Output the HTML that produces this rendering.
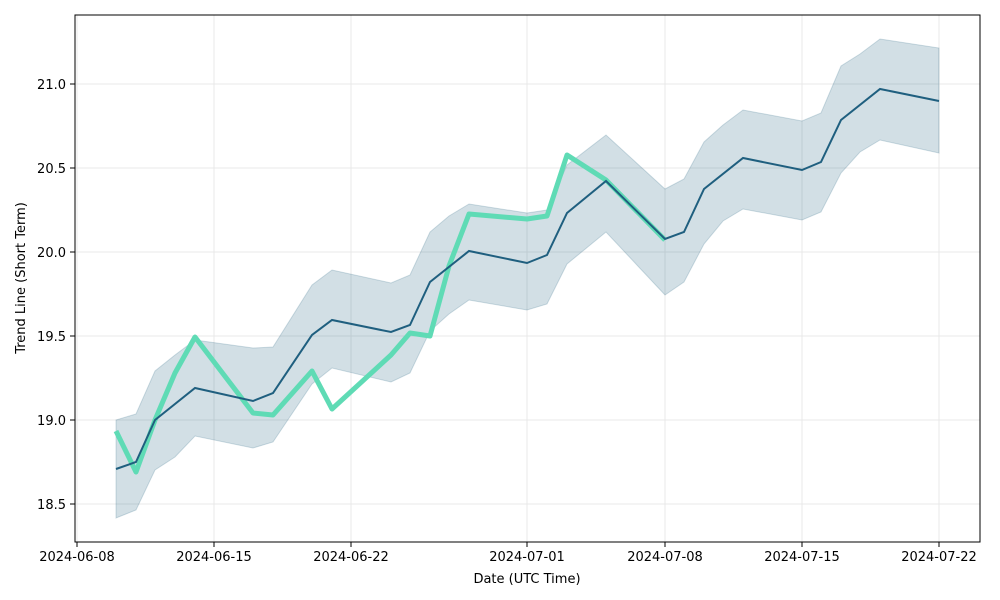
<!DOCTYPE html>
<html><head><meta charset="utf-8"><style>body{margin:0;background:#fff}svg{display:block;font-family:"DejaVu Sans","Liberation Sans",sans-serif}</style></head><body>
<svg width="1000" height="600" xmlns="http://www.w3.org/2000/svg">
<rect width="1000" height="600" fill="#fff"/>
<g stroke="#e8e8e8" stroke-width="1">
<line x1="214" y1="15" x2="214" y2="542"/><line x1="351" y1="15" x2="351" y2="542"/><line x1="527" y1="15" x2="527" y2="542"/><line x1="665" y1="15" x2="665" y2="542"/><line x1="802" y1="15" x2="802" y2="542"/><line x1="939" y1="15" x2="939" y2="542"/><line x1="77" y1="15" x2="77" y2="542"/>
<line x1="75" y1="84" x2="980" y2="84"/><line x1="75" y1="168" x2="980" y2="168"/><line x1="75" y1="252" x2="980" y2="252"/><line x1="75" y1="336" x2="980" y2="336"/><line x1="75" y1="420" x2="980" y2="420"/><line x1="75" y1="504" x2="980" y2="504"/>
</g>
<polygon fill="#1f5f7f" fill-opacity="0.2" stroke="#1f5f7f" stroke-opacity="0.2" points="116,420 136,414 155,371 175,355 195,340 253,348 273,347 312,285 332,270 391,283 410,275 430,232 449,216 469,204 527,213 547,210 567,165 606,135 665,189 684,179 704,142 723,125 743,110 802,121 821,113 841,66 860,54 880,39 939,48 939,153 880,140 860,152 841,173 821,212 802,220 743,209 723,221 704,244 684,282 665,295 606,232 567,264 547,304 527,310 469,300 449,314 430,331 410,373 391,382 332,368 312,384 273,442 253,448 195,436 175,457 155,470 136,510 116,518"/>
<polyline fill="none" stroke="#5fdbb5" stroke-width="5" stroke-linejoin="round" points="116,431 136,472 155,420 175,373 195,337 253,413 273,415 312,371 332,409 391,355 410,333 430,336 449,266 469,214 527,219 547,216 567,155 606,180 665,240"/>
<polyline fill="none" stroke="#1f5f7f" stroke-width="2" points="116,469 136,462 155,420 195,388 253,401 273,393 312,335 332,320 391,332 410,325 430,282 469,251 527,263 547,255 567,213 606,181 665,239 684,232 704,189 743,158 802,170 821,162 841,120 880,89 939,101"/>
<rect x="75" y="15" width="905" height="527" fill="none" stroke="#000" stroke-width="1"/>
<g stroke="#000"><line x1="77" y1="542" x2="77" y2="547"/><line x1="214" y1="542" x2="214" y2="547"/><line x1="351" y1="542" x2="351" y2="547"/><line x1="527" y1="542" x2="527" y2="547"/><line x1="665" y1="542" x2="665" y2="547"/><line x1="802" y1="542" x2="802" y2="547"/><line x1="939" y1="542" x2="939" y2="547"/>
<line x1="70" y1="84" x2="75" y2="84"/><line x1="70" y1="168" x2="75" y2="168"/><line x1="70" y1="252" x2="75" y2="252"/><line x1="70" y1="336" x2="75" y2="336"/><line x1="70" y1="420" x2="75" y2="420"/><line x1="70" y1="504" x2="75" y2="504"/></g>
<g font-size="13" fill="#000" text-anchor="middle">
<text x="77" y="561">2024-06-08</text><text x="214" y="561">2024-06-15</text><text x="351" y="561">2024-06-22</text><text x="527" y="561">2024-07-01</text><text x="665" y="561">2024-07-08</text><text x="802" y="561">2024-07-15</text><text x="939" y="561">2024-07-22</text>
<text x="527" y="583">Date (UTC Time)</text>
</g>
<g font-size="13" fill="#000" text-anchor="end">
<text x="66" y="89">21.0</text><text x="66" y="173">20.5</text><text x="66" y="257">20.0</text><text x="66" y="341">19.5</text><text x="66" y="425">19.0</text><text x="66" y="509">18.5</text>
</g>
<text x="25" y="278" font-size="13" text-anchor="middle" transform="rotate(-90 25 278)">Trend Line (Short Term)</text>
</svg>
</body></html>
